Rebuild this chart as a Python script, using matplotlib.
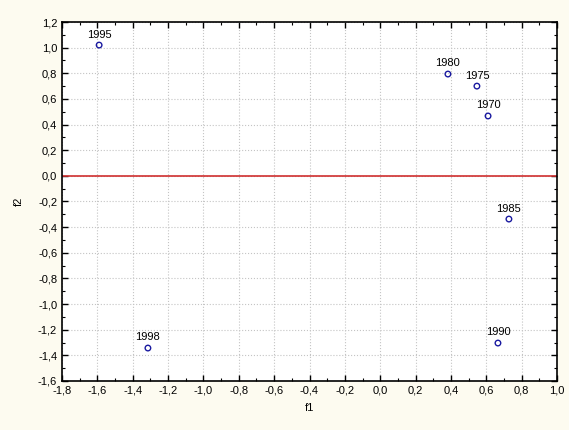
import matplotlib
matplotlib.use("Agg")
import matplotlib.pyplot as plt
from matplotlib.ticker import MultipleLocator, FuncFormatter

labels = ["1995", "1980", "1975", "1970", "1985", "1990", "1998"]
f1 = [-1.59, 0.383, 0.547, 0.61, 0.728, 0.666, -1.314]
f2 = [1.02, 0.794, 0.70, 0.467, -0.337, -1.304, -1.343]

plt.rcParams['font.family'] = ['Liberation Sans', 'DejaVu Sans']
bg = '#fdfbf0'
fig = plt.figure(figsize=(5.69, 4.30), dpi=100, facecolor=bg)
ax = fig.add_axes([62/569, 49/430, 495/569, 359/430])
ax.set_facecolor('white')

ax.axhline(0, color='#d03030', lw=1.2, zorder=2)
ax.scatter(f1, f2, s=16, facecolors='none', edgecolors='#1a1aa0', linewidths=1.0, zorder=3)
for x, y, t in zip(f1, f2, labels):
    ax.annotate(t, (x, y), xytext=(0, 4), textcoords='offset points', ha='center', va='bottom', fontsize=8, color='black')

ax.set_xlim(-1.8, 1.0)
ax.set_ylim(-1.6, 1.2)
ax.xaxis.set_major_locator(MultipleLocator(0.2))
ax.yaxis.set_major_locator(MultipleLocator(0.2))
ax.xaxis.set_minor_locator(MultipleLocator(0.1))
ax.yaxis.set_minor_locator(MultipleLocator(0.1))
fmt = FuncFormatter(lambda v, p: f"{v:.1f}".replace('.', ',').replace('-0,0', '0,0'))
ax.xaxis.set_major_formatter(fmt)
ax.yaxis.set_major_formatter(fmt)
ax.tick_params(which='both', direction='in', top=True, right=True, labelsize=8, colors='black')
ax.tick_params(which='major', length=4, width=1)
ax.tick_params(which='minor', length=2, width=0.8)
ax.grid(True, which='major', color='#c4c4c4', linestyle=':', linewidth=0.8, zorder=0)
for s in ax.spines.values():
    s.set_linewidth(1.2)
ax.set_xlabel('f1', fontsize=8, labelpad=5)
ax.set_ylabel('f2', fontsize=8, labelpad=10)

fig.savefig('out.png', dpi=100, facecolor=bg)
